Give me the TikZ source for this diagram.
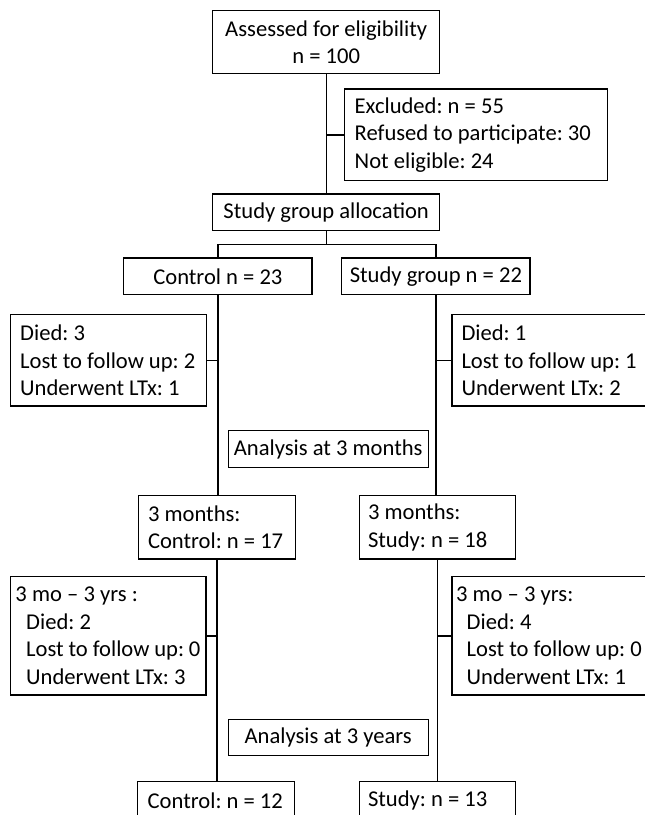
\documentclass[tikz,border=0pt]{standalone}
\usepackage{fontspec}
\setmainfont{Carlito}
\usetikzlibrary{positioning}
\newcommand\boxfont{\fontsize{22.6}{27.5}\selectfont\frenchspacing}
\tikzset{
  box/.style  = {draw, line width=1.4pt, font=\boxfont, inner ysep=0pt},
  cbox/.style = {box, align=center, inner xsep=0pt, anchor=north west},
  lbox/.style = {box, align=flush left, anchor=north west},
  wire/.style = {line width=1.4pt},
}

\begin{document}
\begin{tikzpicture}[x=1pt,y=-1pt]
  \useasboundingbox (0,0) rectangle (645,815);
  \clip (0,0) rectangle (645,815);
  % enrolment
  \node[cbox,minimum width=227pt,minimum height=63pt] (assess) at (212,10)
    {Assessed for eligibility\\n = 100};
  \node[lbox,inner xsep=10pt,text width=243pt,minimum height=91.7pt] (excl) at (344,88.3)
    {Excluded: n = 55\\Refused to participate: 30\\Not eligible: 24};
  \node[cbox,minimum width=227pt,minimum height=36.7pt] (alloc) at (212,193.3)
    {Study group allocation};
  % the two arms
  \node[cbox,minimum width=188.4pt,minimum height=36.7pt] (ctrl) at (123,257.3)
    {Control n = 23};
  \node[cbox,minimum width=188.4pt,minimum height=36.7pt] (study) at (341,257.3)
    {Study group n = 22};
  \node[lbox,inner xsep=10pt,text width=176pt,minimum height=91.3pt] (diedC) at (9.5,314)
    {Died: 3\\Lost to follow up: 2\\Underwent LTx: 1};
  \node[lbox,inner xsep=9.5pt,text width=177pt,minimum height=91.3pt] (diedS) at (451.3,314)
    {Died: 1\\Lost to follow up: 1\\Underwent LTx: 2};
  \node[cbox,minimum width=200pt,minimum height=36.7pt] (anMo) at (227.5,430)
    {Analysis at 3 months};
  % 3 months
  \node[lbox,inner xsep=9.5pt,text width=138pt,minimum height=63.3pt] (moC) at (137.8,495)
    {3 months:\\Control: n = 17};
  \node[lbox,inner xsep=8.6pt,text width=139pt,minimum height=63.3pt] (moS) at (358.7,495)
    {3 months:\\Study: n = 18};
  \node[lbox,inner xsep=5.3pt,text width=185pt,minimum height=118.3pt] (yrsC) at (9.5,576)
    {3 mo – 3 yrs :\\\hspace*{10.7pt}Died: 2\\\hspace*{10.7pt}Lost to follow up: 0\\\hspace*{10.7pt}Underwent LTx: 3};
  \node[lbox,inner xsep=4.1pt,text width=188pt,minimum height=118.3pt] (yrsS) at (451.3,576)
    {3 mo – 3 yrs:\\\hspace*{10.6pt}Died: 4\\\hspace*{10.6pt}Lost to follow up: 0\\\hspace*{10.6pt}Underwent LTx: 1};
  \node[cbox,minimum width=200pt,minimum height=36pt] (anYr) at (227.5,719)
    {Analysis at 3 years};
  % 3 years
  \node[lbox,inner xsep=10pt,text width=137pt,minimum height=38pt] (endC) at (137,780.7)
    {Control: n = 12};
  \node[lbox,inner xsep=8.6pt,text width=139pt,minimum height=38pt] (endS) at (358.7,780.7)
    {Study: n = 13};
  % connectors
  \draw[wire] (assess.south) -- (alloc.north);
  \draw[wire] (assess.south |- excl.west) -- (excl.west);
  \coordinate (split) at ([yshift=-13.3pt]alloc.south);
  \draw[wire] (alloc.south) -- (split);
  \draw[wire] (ctrl.north) -- (ctrl.north |- split) -- (study.north |- split) -- (study.north);
  \draw[wire] (ctrl.south) -- (ctrl.south |- moC.north);
  \draw[wire] (diedC.east) -- (ctrl.south |- diedC.east);
  \draw[wire] (study.south) -- (study.south |- moS.north);
  \draw[wire] (diedS.west) -- (study.south |- diedS.west);
  \draw[wire] (moC.south) -- (moC.south |- endC.north);
  \draw[wire] (yrsC.east) -- (moC.south |- yrsC.east);
  \draw[wire] (moS.south) -- (moS.south |- endS.north);
  \draw[wire] (yrsS.west) -- (moS.south |- yrsS.west);
\end{tikzpicture}
\end{document}
